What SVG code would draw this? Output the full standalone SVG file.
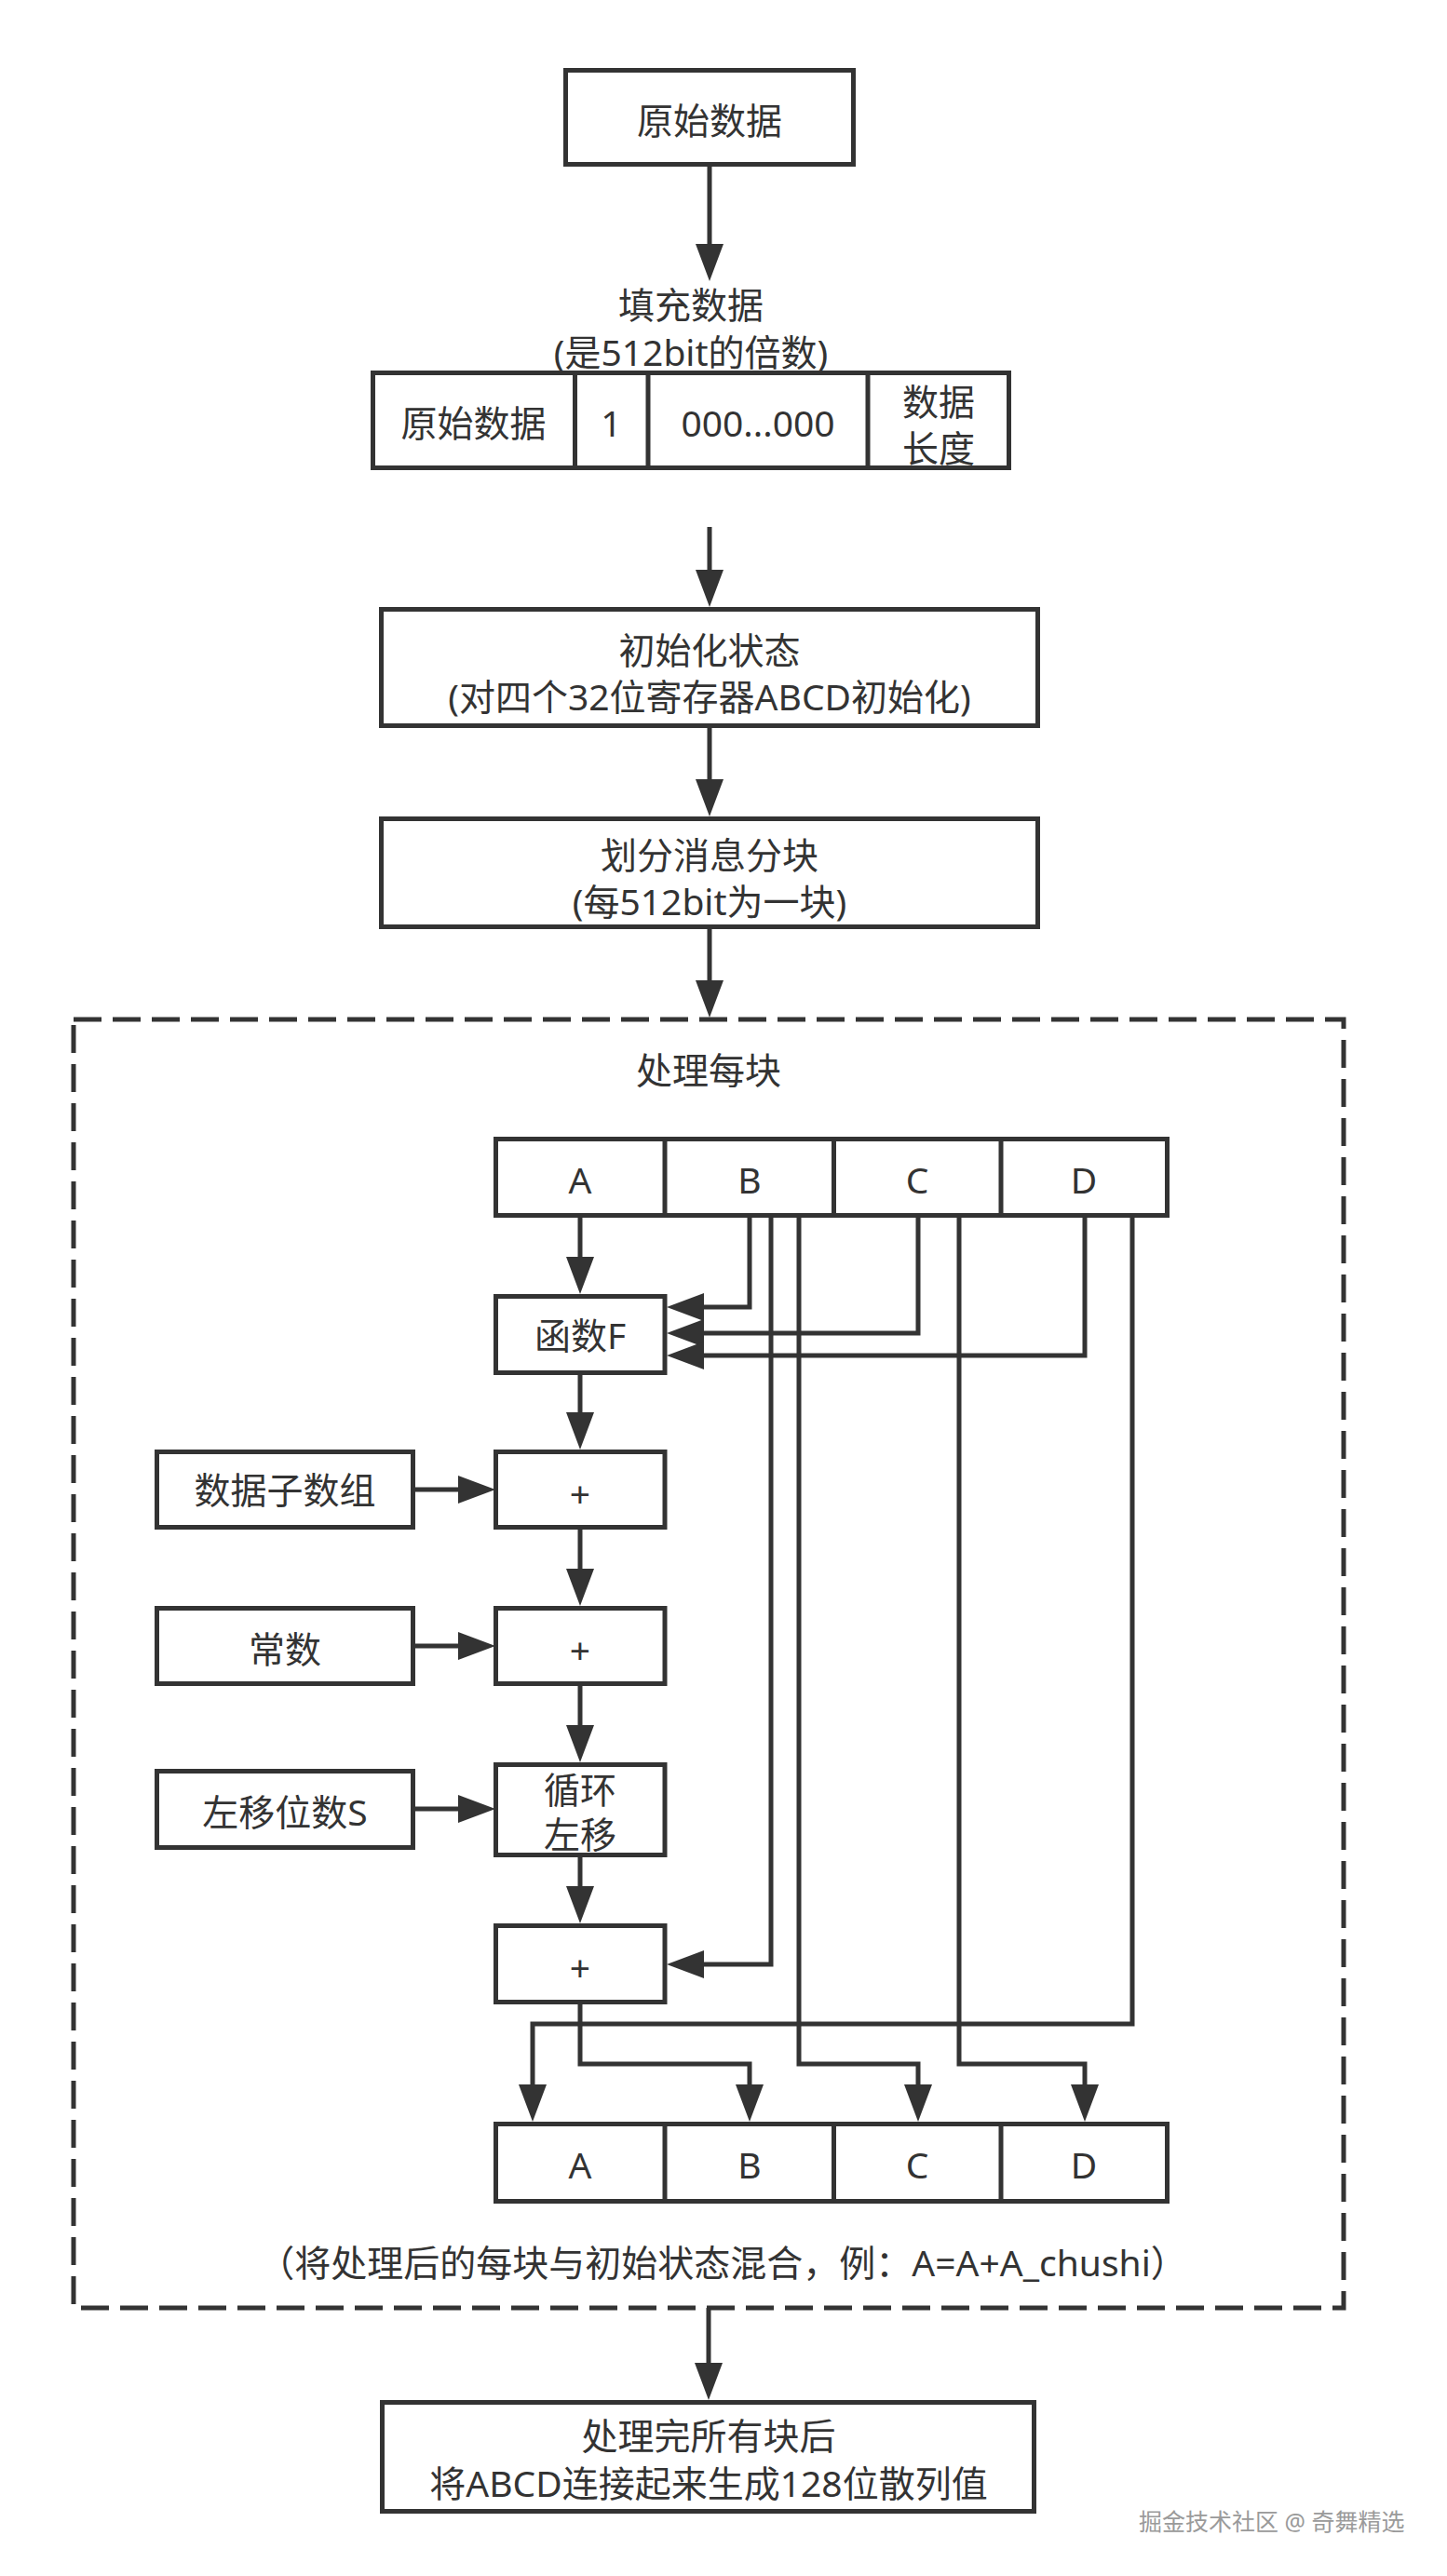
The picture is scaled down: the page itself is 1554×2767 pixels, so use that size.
<svg xmlns="http://www.w3.org/2000/svg" width="1554" height="2767" viewBox="0 0 1554 2767">
<style>
.box{fill:#fff;stroke:#333;stroke-width:5}
.dash{fill:none;stroke:#333;stroke-width:5;stroke-dasharray:30 12}
.ln{fill:none;stroke:#333;stroke-width:5}
.ar{marker-end:url(#arr)}
text{font-family:"Noto Sans","Noto Sans CJK SC",sans-serif;font-size:39px;fill:#333;text-anchor:middle}
.wm{font-size:25px;fill:#9a9a9a;text-anchor:start}
</style>
<defs>
<marker id="arr" markerUnits="userSpaceOnUse" markerWidth="40" markerHeight="30" refX="10" refY="15" orient="auto" viewBox="0 0 40 30">
<path d="M0,0 L40,15 L0,30 Z" fill="#333"/>
</marker>
</defs>
<rect width="1554" height="2767" fill="#fff"/>

<g id="connectors">
<path class="ln ar" d="M762 177 V272"/>
<path class="ln ar" d="M762 566 V622"/>
<path class="ln ar" d="M762 780 V847"/>
<path class="ln ar" d="M762 996 V1063"/>
<path class="ln ar" d="M623 1306 V1360"/>
<path class="ln ar" d="M805 1306 V1404 H746"/>
<path class="ln ar" d="M986 1306 V1432 H746"/>
<path class="ln ar" d="M1165 1306 V1456 H746"/>
<path class="ln ar" d="M623 1475 V1527"/>
<path class="ln ar" d="M443.5 1600 H502"/>
<path class="ln ar" d="M623 1641 V1695"/>
<path class="ln ar" d="M443.5 1768 H502"/>
<path class="ln ar" d="M623 1809 V1863"/>
<path class="ln ar" d="M443.5 1943 H502"/>
<path class="ln ar" d="M623 1993 V2036"/>
<path class="ln ar" d="M828 1306 V2110 H746"/>
<path class="ln ar" d="M1216 1306 V2174 H572 V2249"/>
<path class="ln ar" d="M623 2151 V2217 H805 V2249"/>
<path class="ln ar" d="M858 1306 V2217 H986 V2249"/>
<path class="ln ar" d="M1030 1306 V2217 H1165 V2249"/>
<path class="ln ar" d="M761 2479 V2548"/>
</g>

<g id="raw-data">
<rect class="box" x="607.5" y="75.5" width="309" height="101"/>
<text x="762" y="144">原始数据</text>
</g>

<g id="padding">
<text x="742" y="342">填充数据</text>
<text x="742" y="393">(是512bit的倍数)</text>
<rect class="box" x="400.5" y="400.5" width="683" height="102"/>
<path class="ln" d="M617.5 400.5 V502.5 M696 400.5 V502.5 M932 400.5 V502.5"/>
<text x="508.5" y="469">原始数据</text>
<text x="656.5" y="469">1</text>
<text x="814" y="469">000...000</text>
<text x="1008" y="446">数据</text>
<text x="1008" y="496">长度</text>
</g>

<g id="init-state">
<rect class="box" x="409.5" y="654.5" width="705" height="125"/>
<text x="762" y="713">初始化状态</text>
<text x="762" y="763">(对四个32位寄存器ABCD初始化)</text>
</g>

<g id="split-blocks">
<rect class="box" x="409.5" y="879.5" width="705" height="116"/>
<text x="762" y="933">划分消息分块</text>
<text x="762" y="983">(每512bit为一块)</text>
</g>

<g id="process-block">
<rect class="dash" x="79" y="1095" width="1364" height="1384"/>
<text x="761" y="1164">处理每块</text>
</g>

<g id="abcd-in">
<rect class="box" x="532.5" y="1223.5" width="721" height="82"/>
<path class="ln" d="M714 1223.5 V1305.5 M895.5 1223.5 V1305.5 M1075 1223.5 V1305.5"/>
<text x="623" y="1282">A</text>
<text x="805" y="1282">B</text>
<text x="985" y="1282">C</text>
<text x="1164" y="1282">D</text>
</g>

<g id="func-f">
<rect class="box" x="532.5" y="1392.5" width="181.5" height="82"/>
<text x="623" y="1449">函数F</text>
</g>

<g id="msg-word">
<rect class="box" x="168.5" y="1559.5" width="275" height="81"/>
<text x="306" y="1615">数据子数组</text>
</g>
<g id="add1">
<rect class="box" x="532.5" y="1559.5" width="181.5" height="81"/>
<text x="623" y="1619">+</text>
</g>

<g id="const">
<rect class="box" x="168.5" y="1727.5" width="275" height="81"/>
<text x="306" y="1786">常数</text>
</g>
<g id="add2">
<rect class="box" x="532.5" y="1727.5" width="181.5" height="81"/>
<text x="623" y="1787">+</text>
</g>

<g id="shift-s">
<rect class="box" x="168.5" y="1902.5" width="275" height="82"/>
<text x="306" y="1961">左移位数S</text>
</g>
<g id="rotate">
<rect class="box" x="532.5" y="1895.5" width="181.5" height="97"/>
<text x="623" y="1937">循环</text>
<text x="623" y="1985">左移</text>
</g>

<g id="add3">
<rect class="box" x="532.5" y="2068.5" width="181.5" height="82"/>
<text x="623" y="2128">+</text>
</g>

<g id="abcd-out">
<rect class="box" x="532.5" y="2281.5" width="721" height="83"/>
<path class="ln" d="M714 2281.5 V2364.5 M895.5 2281.5 V2364.5 M1075 2281.5 V2364.5"/>
<text x="623" y="2340">A</text>
<text x="805" y="2340">B</text>
<text x="985" y="2340">C</text>
<text x="1164" y="2340">D</text>
</g>

<g id="mix-note">
<text x="776" y="2445">（将处理后的每块与初始状态混合，例：A=A+A_chushi）</text>
</g>

<g id="final">
<rect class="box" x="410.5" y="2580.5" width="700" height="117"/>
<text x="761" y="2631">处理完所有块后</text>
<text x="761" y="2682">将ABCD连接起来生成128位散列值</text>
</g>

<text class="wm" x="1223" y="2718">掘金技术社区 @ 奇舞精选</text>
</svg>
